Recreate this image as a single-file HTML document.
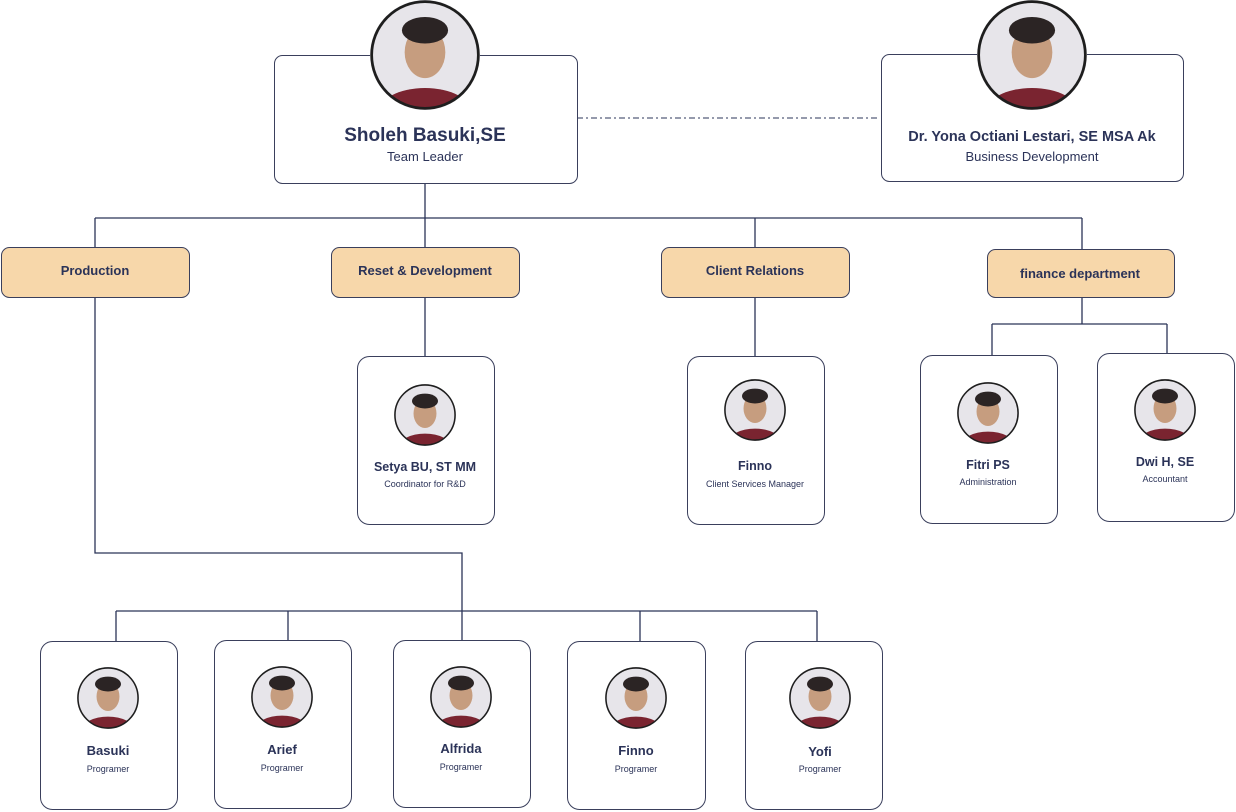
<!DOCTYPE html>
<html><head><meta charset="utf-8"><style>
html,body{margin:0;padding:0;background:#fff;}
svg{display:block;}
text{font-family:"Liberation Sans",sans-serif;fill:#2b3358;}
.n{font-weight:bold;}
</style></head><body>
<svg width="1236" height="812" viewBox="0 0 1236 812" xmlns="http://www.w3.org/2000/svg">
<defs>
<clipPath id="cc"><circle r="0.97"/></clipPath>
<symbol id="av" viewBox="-1 -1 2 2">
<circle r="1" fill="#e7e5ea"/>
<g clip-path="url(#cc)">
<ellipse cx="0" cy="1.05" rx="0.85" ry="0.45" fill="#7a2430"/>
<ellipse cx="0" cy="-0.05" rx="0.37" ry="0.47" fill="#c69d7f"/>
<ellipse cx="0" cy="-0.45" rx="0.42" ry="0.24" fill="#2b2424"/>
</g>
<circle r="0.97" fill="none" stroke="#1e1e1e" stroke-width="0.05"/>
</symbol>
</defs>
<g stroke="#2b3458" stroke-width="1.3" fill="none">
<line x1="425" y1="183" x2="425" y2="247"/>
<line x1="95" y1="218" x2="1082" y2="218"/>
<line x1="95" y1="218" x2="95" y2="247"/>
<line x1="755" y1="218" x2="755" y2="247"/>
<line x1="1082" y1="218" x2="1082" y2="249"/>
<line x1="425" y1="297" x2="425" y2="356"/>
<line x1="755" y1="297" x2="755" y2="356"/>
<line x1="1082" y1="297" x2="1082" y2="324"/>
<line x1="992" y1="324" x2="1167" y2="324"/>
<line x1="992" y1="324" x2="992" y2="355"/>
<line x1="1167" y1="324" x2="1167" y2="353"/>
<polyline points="95,297 95,553 462,553 462,640"/>
<line x1="116" y1="611" x2="817" y2="611"/>
<line x1="116" y1="611" x2="116" y2="641"/>
<line x1="288" y1="611" x2="288" y2="640"/>
<line x1="640" y1="611" x2="640" y2="641"/>
<line x1="817" y1="611" x2="817" y2="641"/>
<line x1="577" y1="118" x2="880" y2="118" stroke-dasharray="6,3,2,3" stroke-width="1"/>
</g>
<g stroke="#3a3f5c" stroke-width="1" fill="#fff">
<rect x="274.5" y="55.5" width="303" height="128" rx="8"/>
<rect x="881.5" y="54.5" width="302" height="127" rx="8"/>
<rect x="357.5" y="356.5" width="137" height="168" rx="12"/>
<rect x="687.5" y="356.5" width="137" height="168" rx="12"/>
<rect x="920.5" y="355.5" width="137" height="168" rx="12"/>
<rect x="1097.5" y="353.5" width="137" height="168" rx="12"/>
<rect x="40.5" y="641.5" width="137" height="168" rx="12"/>
<rect x="214.5" y="640.5" width="137" height="168" rx="12"/>
<rect x="393.5" y="640.5" width="137" height="167" rx="12"/>
<rect x="567.5" y="641.5" width="138" height="168" rx="12"/>
<rect x="745.5" y="641.5" width="137" height="168" rx="12"/>
</g>
<g stroke="#3a3f5c" stroke-width="1" fill="#f7d7aa">
<rect x="1.5" y="247.5" width="188" height="50" rx="8"/>
<rect x="331.5" y="247.5" width="188" height="50" rx="8"/>
<rect x="661.5" y="247.5" width="188" height="50" rx="8"/>
<rect x="987.5" y="249.5" width="187" height="48" rx="8"/>
</g>
<use href="#av" x="370" y="0" width="110" height="110"/>
<use href="#av" x="977" y="0" width="110" height="110"/>
<use href="#av" x="394" y="384" width="62" height="62"/>
<use href="#av" x="724" y="379" width="62" height="62"/>
<use href="#av" x="957" y="382" width="62" height="62"/>
<use href="#av" x="1134" y="379" width="62" height="62"/>
<use href="#av" x="77" y="667" width="62" height="62"/>
<use href="#av" x="251" y="666" width="62" height="62"/>
<use href="#av" x="430" y="666" width="62" height="62"/>
<use href="#av" x="605" y="667" width="62" height="62"/>
<use href="#av" x="789" y="667" width="62" height="62"/>
<g text-anchor="middle">
<text x="425" y="141" class="n" font-size="19">Sholeh Basuki,SE</text>
<text x="425" y="161" font-size="13">Team Leader</text>
<text x="1032" y="141" class="n" font-size="14.5">Dr. Yona Octiani Lestari, SE MSA Ak</text>
<text x="1032" y="161" font-size="13">Business Development</text>
<text x="95" y="275" class="n" font-size="13">Production</text>
<text x="425" y="275" class="n" font-size="13">Reset &amp; Development</text>
<text x="755" y="275" class="n" font-size="13">Client Relations</text>
<text x="1080" y="278" class="n" font-size="13">finance department</text>
<text x="425" y="471" class="n" font-size="12.5">Setya BU, ST MM</text>
<text x="425" y="487" font-size="9">Coordinator for R&amp;D</text>
<text x="755" y="470" class="n" font-size="12.5">Finno</text>
<text x="755" y="487" font-size="9">Client Services Manager</text>
<text x="988" y="469" class="n" font-size="12.5">Fitri PS</text>
<text x="988" y="485" font-size="9">Administration</text>
<text x="1165" y="466" class="n" font-size="12.5">Dwi H, SE</text>
<text x="1165" y="482" font-size="9">Accountant</text>
<text x="108" y="755" class="n" font-size="13">Basuki</text>
<text x="108" y="772" font-size="9">Programer</text>
<text x="282" y="754" class="n" font-size="13">Arief</text>
<text x="282" y="771" font-size="9">Programer</text>
<text x="461" y="753" class="n" font-size="13">Alfrida</text>
<text x="461" y="770" font-size="9">Programer</text>
<text x="636" y="755" class="n" font-size="13">Finno</text>
<text x="636" y="772" font-size="9">Programer</text>
<text x="820" y="756" class="n" font-size="13">Yofi</text>
<text x="820" y="772" font-size="9">Programer</text>
</g>
</svg>
</body></html>
